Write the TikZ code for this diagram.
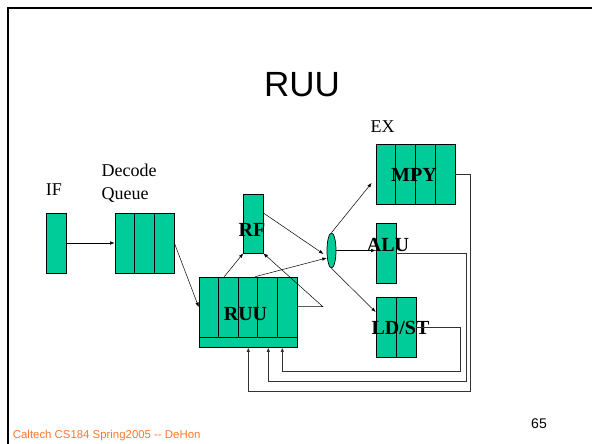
\documentclass[tikz,border=0pt]{standalone}
\usepackage{fontspec}
\setmainfont{Liberation Serif}
\newfontfamily\arialfont{Liberation Sans}
\usepackage{tikz}
\usetikzlibrary{arrows.meta, shapes.geometric}

\definecolor{ruugreen}{RGB}{0,204,153}
\definecolor{footorange}{RGB}{255,120,40}

\tikzset{
    unit/.style={draw, fill=ruugreen, inner sep=0pt, line width=0.7pt},
    lbl/.style={anchor=base, inner sep=0pt, font=\fontsize{18}{22}\selectfont},
    blbl/.style={anchor=base, inner sep=0pt, font=\fontsize{20}{24}\selectfont\bfseries},
    flow/.style={-{Latex[length=4.5pt,width=3.5pt]}, line width=0.5pt},
    back/.style={-{Latex[length=4.5pt,width=3.5pt]}, line width=0.9pt, black!80}
}

\begin{document}
\begin{tikzpicture}[x=1pt, y=-1pt]
    \useasboundingbox (0,0) rectangle (592,444);
    \draw[line width=2pt] (7.8,444) -- (7.8,7.8) -- (592,7.8);

    \node[anchor=base, inner sep=0pt, font=\arialfont\fontsize{35}{40}\selectfont] at (302, 96.5) (title) {RUU};

    % pipeline units
    \node[unit, minimum width=20pt, minimum height=60pt] at (56, 243) (IF) {};
    \node[unit, minimum width=59pt, minimum height=60pt] at (144.5, 243) (DQ) {};
    \node[unit, minimum width=19.5pt, minimum height=59pt] at (253.3, 223.5) (RF) {};
    \node[unit, minimum width=98.5pt, minimum height=70pt] at (248.3, 312) (RUU) {};
    \node[unit, ellipse, minimum width=9pt, minimum height=35pt] at (331.5, 250.5) (oval) {};
    \node[unit, minimum width=79pt, minimum height=60pt] at (415.5, 174) (MPY) {};
    \node[unit, minimum width=20pt, minimum height=60pt] at (386, 253) (ALU) {};
    \node[unit, minimum width=40pt, minimum height=60pt] at (396, 327) (LDST) {};

    % cells
    \foreach \i in {1,2}
        \draw[line width=0.7pt] ([xshift=\i*19.67pt]DQ.north west) -- ([xshift=\i*19.67pt]DQ.south west);
    \foreach \i in {1,...,4}
        \draw[line width=0.7pt] ([xshift=\i*19.7pt]RUU.north west) -- ([xshift=\i*19.7pt, yshift=10pt]RUU.south west);
    \draw[line width=0.7pt] ([yshift=10pt]RUU.south west) -- ([yshift=10pt]RUU.south east);
    \foreach \i in {1,2,3}
        \draw[line width=0.7pt] ([xshift=\i*19.75pt]MPY.north west) -- ([xshift=\i*19.75pt]MPY.south west);
    \draw[line width=0.7pt] (LDST.north) -- (LDST.south);

    % labels
    \node[lbl] at (54, 195) (lIF) {IF};
    \node[lbl, anchor=base west] at (101.5, 176.5) (lDec) {Decode};
    \node[lbl, anchor=base west] at (101.5, 199.3) (lQue) {Queue};
    \node[lbl] at (382.5, 132) (lEX) {EX};
    \node[blbl] at (252, 236.7) (lRF) {RF};
    \node[blbl] at (245.5, 320) (lRUU) {RUU};
    \node[blbl] at (414, 181.7) (lMPY) {MPY};
    \node[blbl] at (388, 251.7) (lALU) {ALU};
    \node[blbl] at (400.5, 334) (lLDST) {LD/ST};

    % forward flow
    \draw[flow] (IF.east) -- (DQ.west);
    \draw[flow] (DQ.east) -- ([yshift=5pt]RUU.west);
    \draw[flow] ([xshift=-24pt]RUU.north) -- (RF.south west);
    \draw[flow] ([yshift=10.5pt]RF.east) -- ([xshift=-8pt, yshift=-3.5pt]oval.center);
    \draw[flow] ([xshift=7pt]RUU.north) -- ([xshift=-4.8pt, yshift=-7.5pt]oval.center);
    \draw[flow] ([yshift=5.3pt]RUU.east) -- ++(25,0) -- (RF.south east);
    \draw[flow] (oval.north) -- ([xshift=-4pt, yshift=-9pt]MPY.west);
    \draw[flow] (oval.east) -- (oval.east -| ALU.west);
    \draw[flow] (oval.south) -- ([yshift=15pt]LDST.west);

    % results back to the RUU
    \draw[back] (MPY.east) -| ++(15,217) -| (RUU.south);
    \draw[back] (ALU.east) -| ++(70,128) -| ([xshift=20pt]RUU.south);
    \draw[back] (LDST.east) -| ++(44,44) -| ([xshift=34pt]RUU.south);

    \node[anchor=base, inner sep=0pt, font=\arialfont\fontsize{14}{16}\selectfont] at (539, 428) (page) {65};
    \node[anchor=base west, inner sep=0pt, text=footorange, font=\arialfont\fontsize{11.4}{13}\selectfont] at (12.7, 438) (foot) {Caltech CS184 Spring2005 -- DeHon};
\end{tikzpicture}
\end{document}
